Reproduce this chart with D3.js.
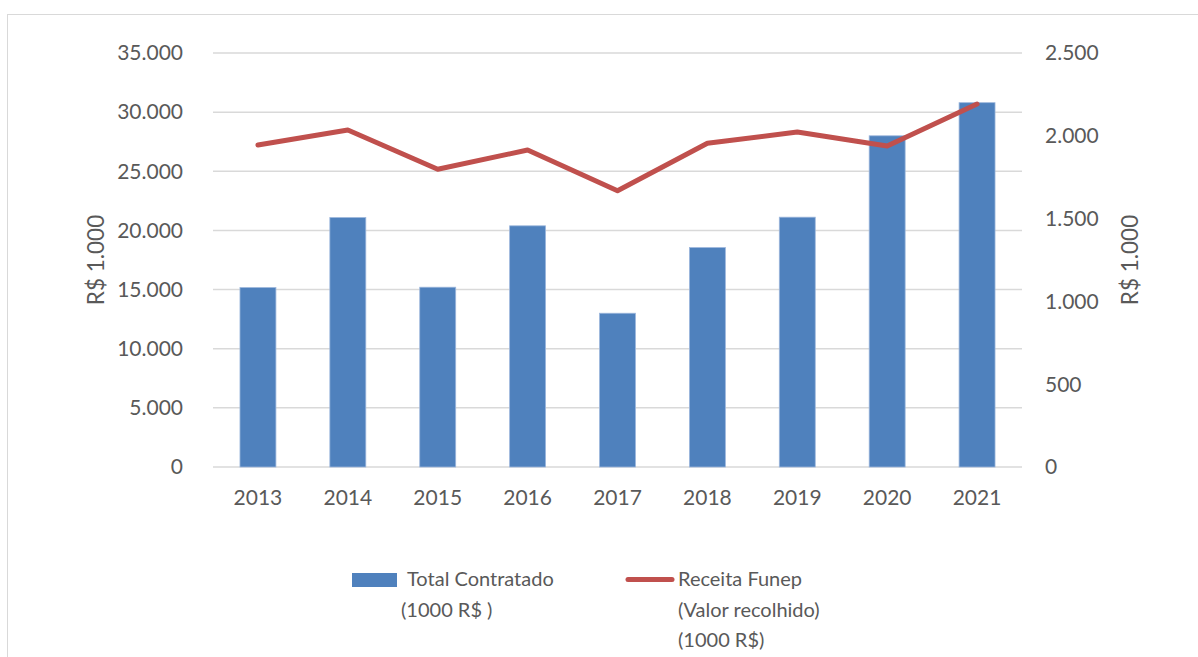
<!DOCTYPE html>
<html>
<head>
<meta charset="utf-8">
<script src="https://cdn.jsdelivr.net/npm/d3@7"></script>
<style>
    body { margin: 0; background: #ffffff; }
    svg text { font-family: Lato, "Open Sans", sans-serif; fill: #595959; }
</style>
</head>
<body>
<div id="chart"></div>
<script>
// data
const years = ['2013', '2014', '2015', '2016', '2017', '2018', '2019', '2020', '2021'];
const totalContratado = [15170, 21090, 15200, 20390, 13000, 18550, 21120, 28000, 30800];
const receitaFunep = [1944, 2035, 1798, 1914, 1668, 1955, 2023, 1938, 2192];
const leftTicks = [0, 5000, 10000, 15000, 20000, 25000, 30000, 35000];
const rightTicks = [0, 500, 1000, 1500, 2000, 2500];

const width = 1198;
const height = 657;
const margin = { left: 213, right: 1022, top: 53, bottom: 467 };
const fontSize = '21px';

const locale = d3.formatLocale({ decimal: ',', thousands: '.', grouping: [3], currency: ['R$', ''] });
const fmt = locale.format(',.0f');

const svg = d3.select('#chart')
    .append('svg')
    .attr('width', width)
    .attr('height', height);

// outer chart frame
svg.append('rect')
    .attr('x', 7.5)
    .attr('y', 14.5)
    .attr('width', width)
    .attr('height', height)
    .attr('fill', 'none')
    .attr('stroke', '#d9d9d9')
    .attr('stroke-width', 1);

const x = d3.scaleBand()
    .domain(years)
    .range([margin.left, margin.right])
    .paddingInner(0.6)
    .paddingOuter(0.3);

const yLeft = d3.scaleLinear().domain([0, 35000]).range([margin.bottom, margin.top]);
const yRight = d3.scaleLinear().domain([0, 2500]).range([margin.bottom, margin.top]);

// gridlines
svg.append('g')
    .selectAll('line')
    .data(leftTicks)
    .enter()
    .append('line')
    .attr('x1', margin.left)
    .attr('x2', margin.right)
    .attr('y1', d => yLeft(d))
    .attr('y2', d => yLeft(d))
    .attr('stroke', '#d9d9d9')
    .attr('stroke-width', 1.5);

// left tick labels
svg.append('g')
    .selectAll('text')
    .data(leftTicks)
    .enter()
    .append('text')
    .attr('x', 183)
    .attr('y', d => yLeft(d))
    .attr('dy', '0.35em')
    .attr('text-anchor', 'end')
    .attr('font-size', fontSize)
    .text(d => fmt(d));

// right tick labels
svg.append('g')
    .selectAll('text')
    .data(rightTicks)
    .enter()
    .append('text')
    .attr('x', 1045)
    .attr('y', d => yRight(d))
    .attr('dy', '0.35em')
    .attr('font-size', fontSize)
    .text(d => fmt(d));

// axis titles
svg.append('text')
    .attr('transform', 'translate(104,260) rotate(-90)')
    .attr('text-anchor', 'middle')
    .attr('font-size', '22.5px')
    .text('R$ 1.000');

svg.append('text')
    .attr('transform', 'translate(1138,260) rotate(-90)')
    .attr('text-anchor', 'middle')
    .attr('font-size', '22.5px')
    .text('R$ 1.000');

// bars
svg.append('g')
    .selectAll('rect')
    .data(years)
    .enter()
    .append('rect')
    .attr('x', d => x(d))
    .attr('width', x.bandwidth())
    .attr('y', (d, i) => yLeft(totalContratado[i]))
    .attr('height', (d, i) => yLeft(0) - yLeft(totalContratado[i]))
    .attr('fill', '#4f81bd')
    .attr('stroke', '#9db7dc')
    .attr('stroke-width', 0.8);

// x labels
svg.append('g')
    .selectAll('text')
    .data(years)
    .enter()
    .append('text')
    .attr('x', d => x(d) + x.bandwidth() / 2)
    .attr('y', 498)
    .attr('dy', '0.35em')
    .attr('text-anchor', 'middle')
    .attr('font-size', fontSize)
    .text(d => d);

// line series on the right axis
const line = d3.line()
    .x((d, i) => x(years[i]) + x.bandwidth() / 2)
    .y(d => yRight(d));

svg.append('path')
    .datum(receitaFunep)
    .attr('d', line)
    .attr('fill', 'none')
    .attr('stroke', '#c0504d')
    .attr('stroke-width', 5)
    .attr('stroke-linejoin', 'round')
    .attr('stroke-linecap', 'round');

// legend
const legend = svg.append('g');

legend.append('rect')
    .attr('x', 352)
    .attr('y', 573)
    .attr('width', 45)
    .attr('height', 14)
    .attr('fill', '#4f81bd');

legend.append('text')
    .attr('x', 407)
    .attr('y', 586)
    .attr('font-size', '20px')
    .text('Total Contratado');
legend.append('text')
    .attr('x', 401)
    .attr('y', 617)
    .attr('font-size', '20px')
    .text('(1000 R$ )');

legend.append('line')
    .attr('x1', 628)
    .attr('x2', 672)
    .attr('y1', 579.5)
    .attr('y2', 579.5)
    .attr('stroke', '#c0504d')
    .attr('stroke-width', 5)
    .attr('stroke-linecap', 'round');

const legendLines = ['Receita Funep', '(Valor recolhido)', '(1000 R$)'];
legend.selectAll('text.rf')
    .data(legendLines)
    .enter()
    .append('text')
    .attr('class', 'rf')
    .attr('x', 678)
    .attr('y', (d, i) => 586 + i * 30.5)
    .attr('font-size', '20px')
    .text(d => d);
</script>
</body>
</html>
